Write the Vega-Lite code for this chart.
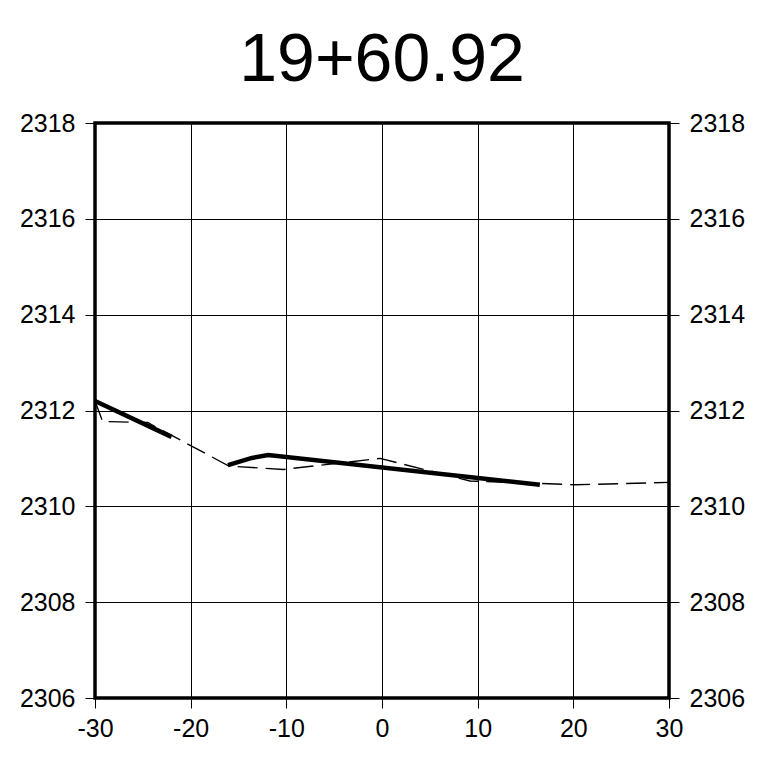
{
  "$schema": "https://vega.github.io/schema/vega-lite/v6.json",
  "width": 574,
  "height": 575,
  "autosize": {"type": "none"},
  "padding": {"left": 95, "top": 123, "right": 115, "bottom": 64},
  "background": "white",
  "title": {"text": "19+60.92", "fontSize": 68, "font": "Liberation Sans", "fontWeight": "normal", "color": "black", "anchor": "middle", "frame": "group", "baseline": "alphabetic", "offset": -38},
  "config": {
    "view": {"stroke": "black", "strokeWidth": 3.5},
    "axis": {
      "labelFont": "Liberation Sans", "labelFontSize": 25, "labelColor": "black",
      "gridColor": "black", "gridOpacity": 1, "gridWidth": 1,
      "tickColor": "black", "tickWidth": 1, "tickSize": 10,
      "domain": false, "title": null, "labelPadding": 8,
      "labelFlush": false, "labelOverlap": false,
      "labelExpr": "'' + datum.value"
    }
  },
  "datasets": {
    "ground": [
      {"x": -30, "y": 2312.2},
      {"x": -29.2, "y": 2311.77},
      {"x": -24.5, "y": 2311.75},
      {"x": -16.0, "y": 2310.84},
      {"x": -10.3, "y": 2310.77},
      {"x": -0.2, "y": 2311.0},
      {"x": 9.2, "y": 2310.53},
      {"x": 20.2, "y": 2310.45},
      {"x": 30, "y": 2310.5}
    ],
    "design": [
      {"x": -30, "y": 2312.2, "seg": "a"},
      {"x": -22.0, "y": 2311.45, "seg": "a"},
      {"x": -16.1, "y": 2310.86, "seg": "b"},
      {"x": -13.6, "y": 2311.01, "seg": "b"},
      {"x": -11.9, "y": 2311.07, "seg": "b"},
      {"x": 16.5, "y": 2310.45, "seg": "b"}
    ]
  },
  "layer": [
    {
      "data": {"name": "ground"},
      "mark": {"type": "line", "color": "black", "strokeWidth": 1.4, "strokeDash": [20, 8]},
      "encoding": {
        "x": {"field": "x", "type": "quantitative", "scale": {"domain": [-30, 30], "nice": false, "zero": false},
              "axis": {"values": [-30, -20, -10, 0, 10, 20, 30], "grid": true, "orient": "bottom"}},
        "y": {"field": "y", "type": "quantitative", "scale": {"domain": [2306, 2318], "nice": false, "zero": false},
              "axis": {"values": [2306, 2308, 2310, 2312, 2314, 2316, 2318], "grid": true, "orient": "left", "labelPadding": 10}}
      }
    },
    {
      "data": {"name": "design"},
      "mark": {"type": "line", "color": "black", "strokeWidth": 4.5},
      "encoding": {
        "x": {"field": "x", "type": "quantitative"},
        "y": {"field": "y", "type": "quantitative",
              "axis": {"values": [2306, 2308, 2310, 2312, 2314, 2316, 2318], "grid": false, "orient": "right", "labelPadding": 10}},
        "detail": {"field": "seg"}
      }
    }
  ],
  "resolve": {"axis": {"y": "independent"}}
}
